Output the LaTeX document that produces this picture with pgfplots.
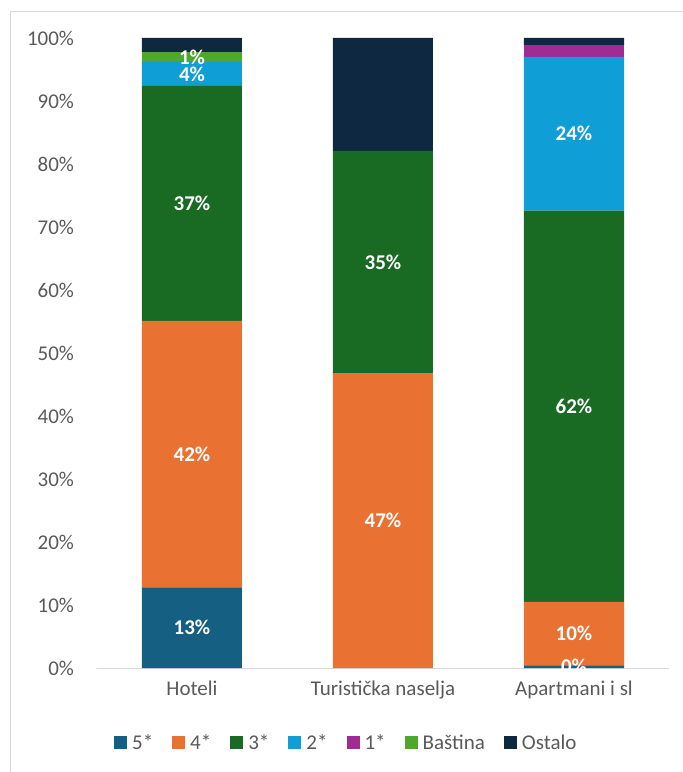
\documentclass[border=0pt]{standalone}
\usepackage{pgfplots}
\pgfplotsset{compat=1.18}
\usepackage{fontspec}
\setmainfont{Carlito}
\definecolor{c5}{HTML}{156082}
\definecolor{c4}{HTML}{E97132}
\definecolor{c3}{HTML}{196B24}
\definecolor{c2}{HTML}{0F9ED5}
\definecolor{c1}{HTML}{A02B93}
\definecolor{cb}{HTML}{4EA72E}
\definecolor{co}{HTML}{0E2841}
\definecolor{txtgray}{HTML}{595959}
\definecolor{linegray}{HTML}{D9D9D9}
\newcommand\ff{\fontsize{21}{25}\selectfont}
\begin{document}
\begin{tikzpicture}[x=1pt,y=1pt]
\useasboundingbox (0,0) rectangle (683,772);
\draw[color=linegray, line width=1pt] (10,0) -- (10,760) -- (683,760);
\begin{axis}[
  at={(96.5pt,104pt)}, anchor=south west,
  scale only axis, width=573pt, height=630pt,
  ybar stacked, bar width=100pt,
  xmin=-0.5, xmax=2.5, ymin=0, ymax=100,
  xtick={0,1,2}, xticklabels={Hoteli,Turistička naselja,Apartmani i sl},
  ytick={0,10,...,100},
  yticklabels={0\%,10\%,20\%,30\%,40\%,50\%,60\%,70\%,80\%,90\%,100\%},
  major tick length=0pt,
  axis line style={draw=none},
  tick label style={font=\ff, text=txtgray},
  yticklabel style={anchor=east, xshift=-19pt},
  xticklabel style={anchor=north, yshift=-9pt},
  point meta=explicit symbolic,
  nodes near coords,
  every node near coord/.append style={font=\ff\bfseries, text=white, anchor=center},
  legend columns=7,
  legend style={at={(0.436,-0.119)}, anchor=center, draw=none, fill=none, font=\ff, text=txtgray,
    /tikz/every even column/.append style={column sep=17pt}},
  legend image code/.code={\fill[#1] (0pt,-6.5pt) rectangle (13pt,6.5pt); \path (16pt,0pt);},
]
\addplot[fill=c5, draw=none] coordinates {(0,12.8) [13\%] (1,0) [] (2,0.4) [0\%]};
\addplot[fill=c4, draw=none] coordinates {(0,42.3) [42\%] (1,46.8) [47\%] (2,10.1) [10\%]};
\addplot[fill=c3, draw=none] coordinates {(0,37.3) [37\%] (1,35.3) [35\%] (2,62.1) [62\%]};
\addplot[fill=c2, draw=none] coordinates {(0,3.8) [4\%] (1,0) [] (2,24.4) [24\%]};
\addplot[fill=c1, draw=none] coordinates {(0,0) [] (1,0) [] (2,1.9) []};
\addplot[fill=cb, draw=none] coordinates {(0,1.5) [1\%] (1,0) [] (2,0) []};
\addplot[fill=co, draw=none] coordinates {(0,2.3) [] (1,17.9) [] (2,1.1) []};
\legend{5*,4*,3*,2*,1*,Baština,Ostalo}
\draw[color=linegray, line width=1pt] (rel axis cs:0,0) -- (rel axis cs:1,0);
\end{axis}
\end{tikzpicture}
\end{document}
